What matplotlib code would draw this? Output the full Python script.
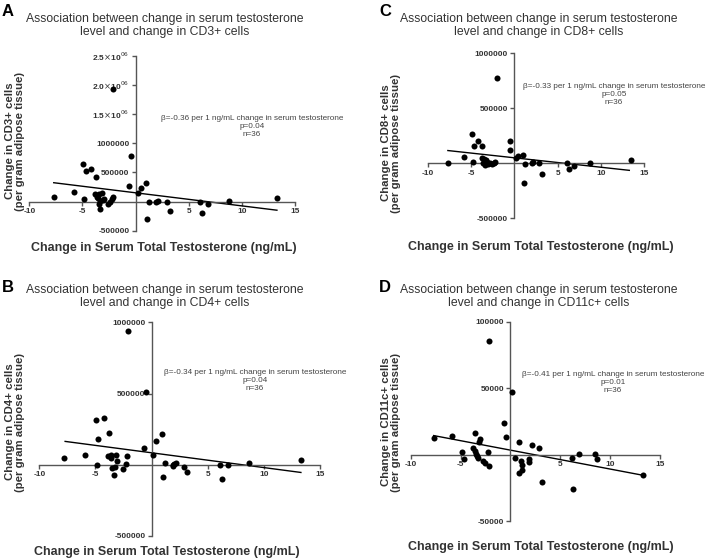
import numpy as np
import matplotlib
matplotlib.use("Agg")
import matplotlib.pyplot as plt

plt.rcParams['font.family'] = ['Liberation Sans', 'DejaVu Sans']

W, H = 709, 558

# ---- data ----
cd3_x = [-7.71, -5.83, -4.94, -4.68, -4.20, -3.70, -4.85, -3.82, -3.44, -3.12, -3.66, -3.54, -3.09,
         -3.31, -3.44, -2.93, -3.31, -2.55, -2.39, -2.23, -2.10, -2.10, -0.60, -0.45, 0.22, 0.48,
         1.02, 1.08, 1.24, 1.91, 2.10, 2.93, 3.25, 6.08, 6.24, 6.83, 8.75, 13.35]
cd3_y = [77000, 162000, 650000, 527000, 555000, 414000, 50000, 134000, 134000, 140000, 84000, 56000,
         22000, 5000, -34000, 39000, -130000, -34000, 0, 39000, 72000, 1940000, 269000, 785000,
         140000, 229000, 313000, -293000, -12000, 0, 17000, -6000, -163000, -5000, -190000,
         -40000, 5000, 57000]

cd4_x = [-7.76, -5.90, -4.97, -4.22, -4.73, -3.76, -4.88, -3.85, -3.58, -3.64, -3.18, -3.49, -3.34,
         -3.06, -3.24, -2.55, -2.27, -2.18, -2.14, -0.64, -0.50, 0.15, 0.42, 0.96, 1.05, 1.21,
         1.91, 2.03, 2.18, 1.94, 2.87, 3.15, 6.06, 6.24, 6.80, 8.67, 13.30]
cd4_y = [49000, 72000, 317000, 328000, 183000, 220000, -5000, 61000, 70000, 47000, 72000, -24000,
         -73000, 23000, -17000, -28000, 4000, 61000, 939000, 120000, 514000, 68000, 164000, 216000,
         -87000, 11000, 0, 7000, 9000, -12000, -17000, -52000, -5000, -100000, -5000, 12000, 30000]

cd8_x = [-7.67, -5.78, -4.88, -4.70, -4.19, -3.72, -4.77, -3.80, -3.53, -3.26, -3.37, -3.14, -3.65,
         -3.41, -3.06, -2.87, -2.60, -2.37, -2.21, -2.04, -0.55, -0.51, 0.19, 0.42, 0.97, 1.08,
         1.20, 2.00, 2.20, 2.89, 3.24, 6.13, 6.37, 6.90, 8.80, 13.46]
cd8_y = [6000, 55000, 264000, 161000, 201000, 159000, 13000, 46000, 36000, 31000, 9000, 15000, 0,
         -15000, -9000, 4000, -5000, 0, 9000, 775000, 122000, 201000, 49000, 67000, 80000, -179000,
         -6000, 0, 9000, 0, -97000, 0, -55000, -24000, 6000, 27000]

cd11c_x = [-7.70, -5.87, -4.85, -4.67, -3.55, -3.08, -3.11, -3.72, -3.55, -3.42, -3.32, -3.21, -2.70,
           -2.53, -2.19, -2.26, -2.19, -0.49, -0.66, 0.15, 0.43, 0.90, 1.04, 1.20, 1.14, 0.87,
           1.86, 1.90, 2.13, 2.88, 3.14, 6.15, 6.28, 6.88, 8.49, 8.72, 13.30]
cd11c_y = [12300, 13800, 2300, -3000, 16600, 12000, 9300, 5000, 2700, 700, -1300, -2500, -4800,
           -6300, -8300, 2000, 85400, 13000, 23400, 47200, -2800, 9300, -4500, -7500, -11300,
           -13800, -3500, -5300, 7200, 4700, -20900, -2300, -25900, 300, 300, -3300, -15600]

# regression line ends
fit_x = [-7.7, 13.3]
cd3_fit = [324000, -148000]
cd4_fit = [164000, -54000]
cd8_fit = [116000, -64000]
cd11c_fit = [14300, -15600]

betas = ["-0.36", "-0.34", "-0.33", "-0.41"]
pvals = ["0.04", "0.04", "0.05", "0.01"]
cells = ["CD3+", "CD4+", "CD8+", "CD11c+"]
letters = ["A", "B", "C", "D"]

cd3_ticks = [-500000, 500000, 1000000, 1500000, 2000000, 2500000]
cd3_labels = ["-500000", "500000", "1000000",
              r"1.5$\times$10$^{06}$", r"2.0$\times$10$^{06}$", r"2.5$\times$10$^{06}$"]
cd4_ticks = [-500000, 500000, 1000000]
cd4_labels = ["-500000", "500000", "1000000"]
cd8_ticks = [-500000, 500000, 1000000]
cd8_labels = ["-500000", "500000", "1000000"]
cd11c_ticks = [-50000, 50000, 100000]
cd11c_labels = ["-50000", "50000", "100000"]
x_ticks = [-10, -5, 5, 10, 15]

AX_COL = '#555555'
TXT_COL = '#333333'


def px(x, y):
    return x / W, 1 - y / H


def make_panel(box, xs, ys, fit_y, yticks, ylabels, ylim, letter, cell, beta, p,
               letter_xy, title_xy, ylab_xy, xlab_xy, note_xy):
    x0, y0, x1, y1 = box  # pixel box: left, top, right, bottom
    ax = fig.add_axes([x0 / W, 1 - y1 / H, (x1 - x0) / W, (y1 - y0) / H])
    ax.set_xlim(-10, 15)
    ax.set_ylim(*ylim)
    for s in ['top', 'right']:
        ax.spines[s].set_visible(False)
    ax.spines['left'].set_position(('data', 0))
    ax.spines['bottom'].set_position(('data', 0))
    for s in ['left', 'bottom']:
        ax.spines[s].set_color(AX_COL)
        ax.spines[s].set_linewidth(1.0)
    ax.set_xticks(x_ticks)
    ax.set_xticklabels([str(t) for t in x_ticks])
    ax.set_yticks(yticks)
    ax.set_yticklabels(ylabels)
    ax.tick_params(axis='both', colors=AX_COL, labelcolor=TXT_COL, labelsize=6,
                   length=3, width=1, direction='out', pad=1.5)
    for lab in ax.get_xticklabels() + ax.get_yticklabels():
        lab.set_fontweight('bold')
    ax.patch.set_alpha(0)

    ax.scatter(xs, ys, s=19, color='black', zorder=3, linewidths=0)
    ax.plot(fit_x, fit_y, color='black', lw=1.0, zorder=2)

    fig.text(*px(*letter_xy), letter, fontsize=12, fontweight='bold', ha='left', va='center',
             color='black')
    fig.text(*px(*title_xy), "Association between change in serum testosterone\n"
             "level and change in %s cells" % cell,
             fontsize=8.8, ha='center', va='center', color=TXT_COL, linespacing=1.2)
    fig.text(*px(*ylab_xy), "Change in %s cells\n(per gram adipose tissue)" % cell,
             fontsize=8.2, fontweight='bold', rotation=90, ha='center', va='center',
             color=TXT_COL, linespacing=1.1)
    fig.text(*px(*xlab_xy), "Change in Serum Total Testosterone (ng/mL)",
             fontsize=9, fontweight='bold', ha='center', va='center', color=TXT_COL)
    fig.text(*px(*note_xy), "\u03b2=%s per 1 ng/mL change in serum testosterone\np=%s\nn=36" % (beta, p),
             fontsize=5.9, ha='center', va='center', color='#444444', linespacing=1.2)
    return ax


fig = plt.figure(figsize=(W / 100, H / 100), dpi=100)

make_panel((29.3, 56, 295, 230.7), cd3_x, cd3_y, cd3_fit, cd3_ticks, cd3_labels,
           (-500000, 2500000), letters[0], cells[0], betas[0], pvals[0],
           (2, 11), (165, 25.5), (15, 141), (164, 248), (252, 127))

make_panel((39.3, 322.3, 320, 536), cd4_x, cd4_y, cd4_fit, cd4_ticks, cd4_labels,
           (-500000, 1000000), letters[1], cells[1], betas[1], pvals[1],
           (2, 287), (165, 296.5), (15, 422), (167, 552), (255, 381))

make_panel((428, 53.3, 644, 218.3), cd8_x, cd8_y, cd8_fit, cd8_ticks, cd8_labels,
           (-500000, 1000000), letters[2], cells[2], betas[2], pvals[2],
           (379, 12), (539, 25.5), (391, 143), (541, 247), (614, 94))

make_panel((410.7, 321.7, 660, 521), cd11c_x, cd11c_y, cd11c_fit, cd11c_ticks, cd11c_labels,
           (-50000, 100000), letters[3], cells[3], betas[3], pvals[3],
           (379, 287), (539, 296.5), (391, 422), (541, 547), (613, 382))

fig.savefig("out.png", dpi=100)
